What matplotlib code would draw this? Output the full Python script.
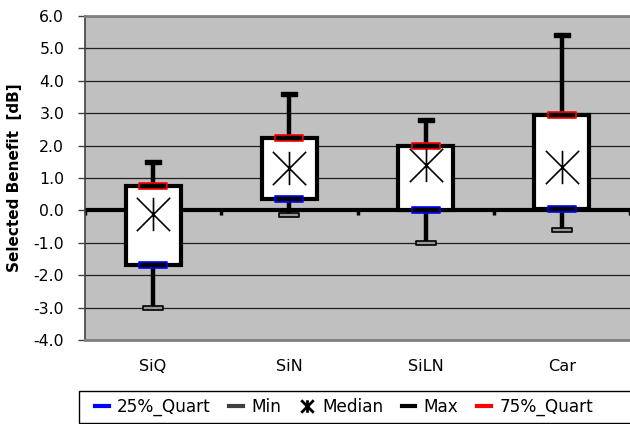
import matplotlib
matplotlib.use("Agg")
import matplotlib.pyplot as plt
from matplotlib.path import Path
from matplotlib.lines import Line2D
from matplotlib.patches import Rectangle

plt.rcParams['font.family'] = ['DejaVu Sans']
plt.rcParams['axes.unicode_minus'] = False

categories = ["SiQ", "SiN", "SiLN", "Car"]
q1_vals = [-1.7, 0.35, 0.0, 0.05]
min_vals = [-3.0, -0.15, -1.0, -0.6]
median_vals = [-0.1, 1.3, 1.4, 1.35]
max_vals = [1.5, 3.6, 2.8, 5.4]
q3_vals = [0.75, 2.25, 2.0, 2.95]
y_ticks = [-4.0, -3.0, -2.0, -1.0, 0.0, 1.0, 2.0, 3.0, 4.0, 5.0, 6.0]

fig = plt.figure(figsize=(6.3, 4.24), dpi=100)
ax = fig.add_axes([85/630, 1-340/424, 545/630, 324/424])
ax.set_facecolor('#C0C0C0')

x = list(range(len(categories)))

# gridlines
for t in y_ticks:
    ax.axhline(t, color='#202020', lw=0.9, zorder=1)

# zero axis
ax.axhline(0, color='black', lw=3, zorder=2)
for b in [-0.5, 0.5, 1.5, 2.5, 3.5]:
    ax.plot([b, b], [0, -0.15], color='black', lw=2.5, zorder=2, solid_capstyle='butt')

# whiskers
ax.vlines(x, min_vals, max_vals, color='black', lw=3.2, zorder=3)

# boxes
heights = [b - a for a, b in zip(q1_vals, q3_vals)]
ax.bar(x, heights, bottom=q1_vals, width=0.405, color='white',
       edgecolor='black', linewidth=3, zorder=4)

def rect_path(h):
    return Path([(-1, -h), (1, -h), (1, h), (-1, h), (-1, -h)],
                [Path.MOVETO, Path.LINETO, Path.LINETO, Path.LINETO, Path.CLOSEPOLY])

quart_marker = rect_path(0.21)
min_marker = rect_path(0.24)
max_marker = rect_path(0.27)
star = Path([(-1, -1), (1, 1), (-1, 1), (1, -1), (0, -1), (0, 1)],
            [Path.MOVETO, Path.LINETO, Path.MOVETO, Path.LINETO, Path.MOVETO, Path.LINETO])

ax.plot(x, q1_vals, ls='none', marker=quart_marker, ms=20, mfc='black', mec='blue', mew=1.2, zorder=5)
ax.plot(x, q3_vals, ls='none', marker=quart_marker, ms=20, mfc='black', mec='red', mew=1.2, zorder=5)
ax.plot(x, min_vals, ls='none', marker=min_marker, ms=14, mfc='#999999', mec='black', mew=1.2, zorder=5)
ax.plot(x, max_vals, ls='none', marker=max_marker, ms=11, mfc='black', mec='black', mew=1, zorder=5)
ax.plot(x, median_vals, ls='none', marker=star, ms=24, mfc='none', mec='black', mew=1.2, zorder=5)

ax.set_xlim(-0.5, 3.5)
ax.set_ylim(-4.0, 6.0)
ax.set_yticks(y_ticks)
ax.set_yticklabels([f"{t:.1f}" for t in y_ticks], fontsize=11.3)
ax.set_xticks(x)
ax.set_xticklabels(categories, fontsize=11.6)
ax.tick_params(axis='x', length=0, pad=14)
ax.tick_params(axis='y', length=5, width=1, color='#404040', pad=10)

for s in ['top', 'bottom']:
    ax.spines[s].set_color('#808080')
    ax.spines[s].set_linewidth(2)
ax.spines['left'].set_color('#404040')
ax.spines['left'].set_linewidth(1.2)
ax.spines['right'].set_visible(False)

ax.set_ylabel("Selected Benefit  [dB]", fontsize=11, fontweight='bold', labelpad=8)

# legend frame extending past right edge
fig.add_artist(Rectangle((79/630, 1/424), 600/630, 32/424, transform=fig.transFigure,
                         facecolor='white', edgecolor='black', lw=1, zorder=0))

handles = [
    Line2D([], [], color='blue', lw=3),
    Line2D([], [], color='#404040', lw=3),
    Line2D([], [], ls='none', marker=star, ms=9, mec='black', mew=2),
    Line2D([], [], color='black', lw=3),
    Line2D([], [], color='red', lw=3),
]
labels = ["25%_Quart", "Min", "Median", "Max", "75%_Quart"]
leg = fig.legend(handles, labels, loc='center left', ncol=5,
                 bbox_to_anchor=(95/630, 17/424),
                 fontsize=12.2, handlelength=0.8, handletextpad=0.5,
                 columnspacing=1.1, frameon=False, borderaxespad=0, borderpad=0)

fig.savefig("out.png", dpi=100)
